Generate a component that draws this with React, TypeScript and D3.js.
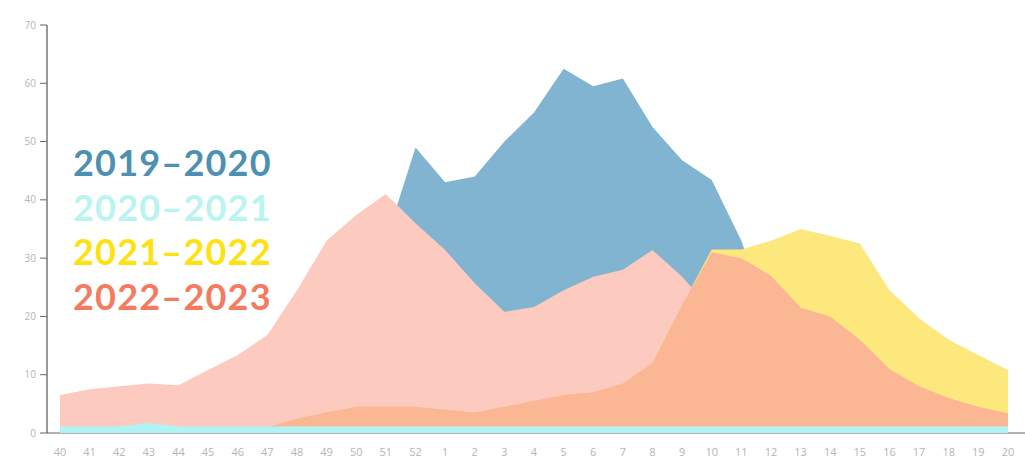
import React from "react";
import * as d3 from "d3";

const weeks = ["40","41","42","43","44","45","46","47","48","49","50","51","52","1","2","3","4","5","6","7","8","9","10","11","12","13","14","15","16","17","18","19","20"];

const season2019_2020 = [2,2,2,3,3,4,5,7,10,15,22,33,49, 43,44,50,55,62.5,59.5,60.8,52.5,46.8,43.4,33,18,13,9,6,4,3,2,2,1];
const season2020_2021 = [1.1,1.1,1.1,1.7,1.1,1.1,1.1,1.1,1.1,1.1,1.1,1.1,1.1, 1.1,1.1,1.1,1.1,1.1,1.1,1.1,1.1,1.1,1.1,1.1,1.1,1.1,1.1,1.1,1.1,1.1,1.1,1.1,1.1];
const season2021_2022 = [1,1,1,1,1,1,1.5,1.5,2,2,2.5,3,3, 3.5,4,5,6,8,10,13,17,22,31.5,31.5,33,35,33.8,32.5,24.5,19.7,16,13.4,10.8];
const season2022_2023 = [6.5,7.5,8,8.5,8.2,10.8,13.4,16.8,24.5,33,37.4,41,36, 31.4,25.7,20.8,21.6,24.5,26.8,28,31.4,26.8,21,15,11,8,6,5,4,3,2.5,2,1.5];
const seasonExtra = [0,0,0,0.4,0,0.3,0.7,1,2.5,3.5,4.5,4.5,4.5, 4,3.5,4.5,5.5,6.5,7,8.5,12,22,31,30,27,21.5,20,16,11,8,6,4.5,3.4];

const yTicks = [0,10,20,30,40,50,60,70];

const legendNames = ["2019–2020","2020–2021","2021–2022","2022–2023"];
const legendColors = ["#4d90b2","#b9f4f0","#ffe10f","#f47a60"];

export default function App() {
  const x = d3.scalePoint<string>().domain(weeks).range([60, 1008]);
  const y = d3.scaleLinear().domain([0, 70]).range([433, 25]);

  const area = (vals: number[]) =>
    d3.area<number>()
      .x((_, i) => x(weeks[i]) as number)
      .y0(y(0))
      .y1((d) => y(d))(vals) || "";

  const layers = [
    { vals: season2019_2020, fill: "#80b4d1" },
    { vals: season2021_2022, fill: "#fde87e" },
    { vals: season2022_2023, fill: "#fccabe" },
    { vals: seasonExtra, fill: "#fbb793" },
    { vals: season2020_2021, fill: "#b0f3f4" },
  ];

  return (
    <svg width={1025} height={463} style={{ position: "absolute", left: 0, top: 0, background: "#fff" }}>
      <line x1={47} x2={1025} y1={y(0)} y2={y(0)} stroke="#666" strokeWidth={1} />
      {layers.map((l, i) => (
        <path key={i} d={area(l.vals)} fill={l.fill} />
      ))}
      <line x1={47} x2={47} y1={y(70)} y2={y(0)} stroke="#555" strokeWidth={1.2} />
      {yTicks.map((t) => (
        <g key={t}>
          <line x1={40} x2={47} y1={y(t)} y2={y(t)} stroke="#666" strokeWidth={1} />
          <text x={36} y={y(t)} dy="0.35em" textAnchor="end" fontFamily="Open Sans, sans-serif" fontSize={10} fill="#b5b5b5">{t}</text>
        </g>
      ))}
      {weeks.map((w) => (
        <text key={w} x={x(w)} y={456} textAnchor="middle" fontFamily="Open Sans, sans-serif" fontSize={11} fill="#b5b5b5">{w}</text>
      ))}
      {legendNames.map((n, i) => (
        <text key={n} x={73} y={176 + i * 44.5} fontFamily="Lato, sans-serif" fontWeight={700} fontSize={36} letterSpacing={1.2} fill={legendColors[i]}>{n}</text>
      ))}
    </svg>
  );
}
